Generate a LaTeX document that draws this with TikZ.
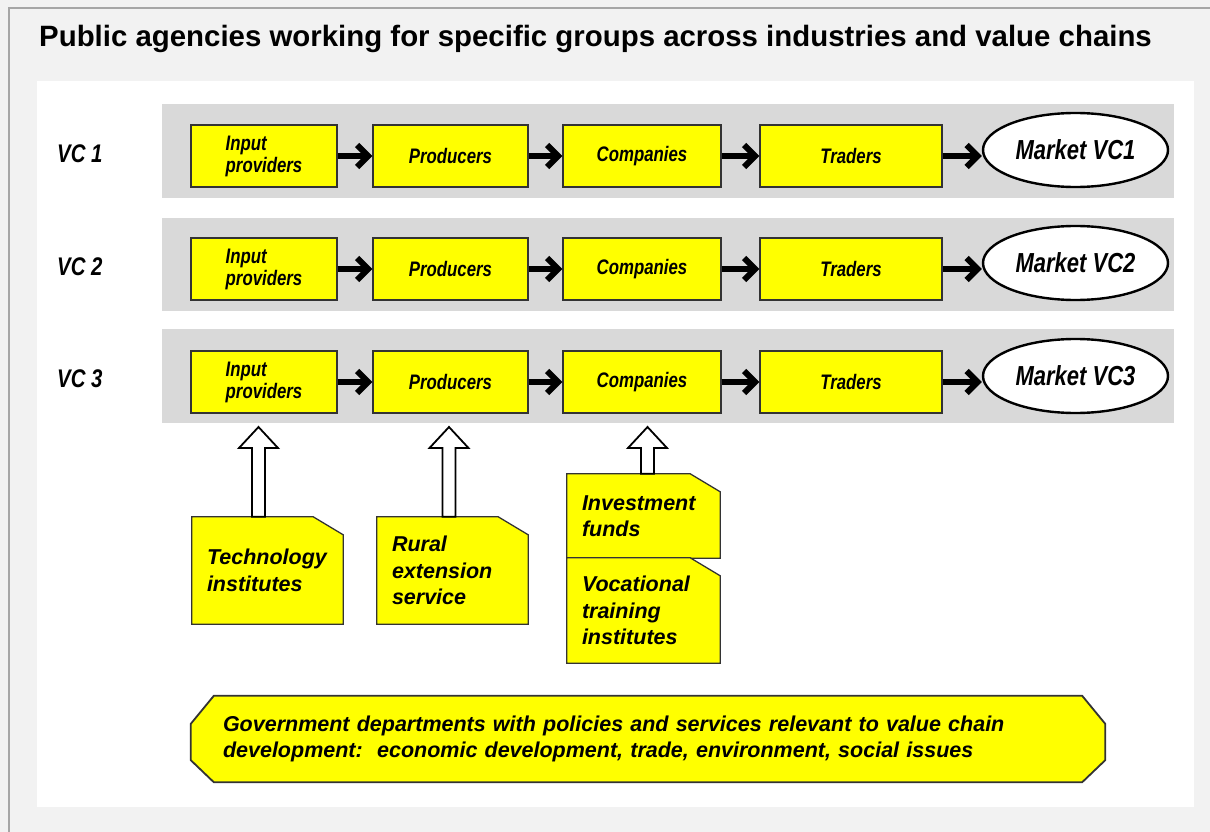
\documentclass[tikz,border=0pt]{standalone}
\usepackage{fontspec}
\setmainfont{Liberation Sans}
\newfontfamily\narrowf{Liberation Sans}[FakeStretch=0.8]
\usetikzlibrary{shapes.geometric,arrows.meta,calc}
\definecolor{bgout}{HTML}{F2F2F2}
\definecolor{bandgray}{HTML}{D9D9D9}
\definecolor{boxyel}{HTML}{FFFF00}
\definecolor{edgec}{HTML}{333333}
\definecolor{framec}{HTML}{A6A6A6}
\pgfdeclarelayer{bglayer}
\pgfdeclarelayer{midlayer}
\pgfsetlayers{bglayer,midlayer,main}
\begin{document}
\begin{tikzpicture}[x=1pt,y=-1pt,
  bandbox/.style={fill=bandgray,draw=none},
  vcbox/.style={draw=edgec,line width=1.3pt,fill=boxyel,inner sep=0pt,minimum height=62pt,align=left,
    font=\narrowf\bfseries\itshape\fontsize{21}{22}\selectfont},
  market/.style={ellipse,draw=black,line width=2.4pt,fill=white,minimum width=185pt,minimum height=74pt,inner sep=0pt,
    font=\narrowf\bfseries\itshape\fontsize{27.5}{30}\selectfont},
  vclabel/.style={anchor=base west,inner sep=0pt,font=\narrowf\bfseries\itshape\fontsize{25.5}{28}\selectfont},
  rowarr/.style={line width=6pt,-{Straight Barb[length=11pt,width=22pt]}},
  supbox/.style={inner sep=0pt,align=left,font=\bfseries\itshape\fontsize{21.5}{26.5}\selectfont},
  supfill/.style={draw=edgec,line width=1.3pt,fill=boxyel,line join=miter},
  govbox/.style={inner sep=0pt,align=left,font=\bfseries\itshape\fontsize{21.5}{26}\selectfont},
  govfill/.style={draw=edgec,line width=1.8pt,fill=boxyel,line join=miter},
  uparr/.style={draw=black,fill=white,line width=1.8pt,line join=miter},
]
\useasboundingbox (0,0) rectangle (1210,832);
\begin{pgfonlayer}{bglayer}
\fill[bgout] (0,0) rectangle (1210,832);
\draw[framec,line width=1.5pt] (9,832) -- (9,8) -- (1210,8);
\fill[white] (37,81) rectangle (1194,807);
% bands
\path[bandbox] (162,104) rectangle (1174,198);
\path[bandbox] (162,218) rectangle (1174,311);
\path[bandbox] (162,329) rectangle (1174,423);
\end{pgfonlayer}

\node[anchor=base west,inner sep=0pt,font=\bfseries\fontsize{29.4}{34}\selectfont] (title) at (39,47)
  {Public agencies working for specific groups across industries and value chains};

% row labels
\node[vclabel] (vc1) at (57,162) {VC 1};
\node[vclabel] (vc2) at (57,275) {VC 2};
\node[vclabel] (vc3) at (57,387) {VC 3};

% rows
\foreach \r/\y/\ey in {1/156/150,2/269/263,3/382/376}{
  \node[vcbox,minimum width=146pt] (in\r) at (264,\y) {Input\\providers};
  \node[vcbox,minimum width=155pt] (pr\r) at (450.5,\y) {Producers};
  \node[vcbox,minimum width=158pt] (co\r) at (642,\y) {Companies};
  \node[vcbox,minimum width=182pt] (tr\r) at (851,\y) {Traders};
  \node[market] (mk\r) at (1075.5,\ey) {Market VC\r};
  \draw[rowarr] (in\r) -- (pr\r);
  \draw[rowarr] (pr\r) -- (co\r);
  \draw[rowarr] (co\r) -- (tr\r);
  \draw[rowarr] (tr\r.east) -- (mk\r.west |- tr\r.east);
}

% support boxes (text nodes; yellow shapes on the middle layer)
\node[supbox,minimum width=151pt,minimum height=107pt,text width=121pt] (tech) at (267.5,570.5)
  {Technology\\institutes};
\node[supbox,minimum width=151pt,minimum height=107pt,text width=121pt] (rural) at (452.5,570.5)
  {Rural\\extension\\service};
\node[supbox,minimum width=153pt,minimum height=84pt,text width=123pt] (invest) at (643.5,516)
  {Investment\\funds};
\node[supbox,minimum width=153pt,minimum height=105pt,text width=123pt] (voc) at (643.5,610.5)
  {Vocational\\training\\institutes};
\begin{pgfonlayer}{midlayer}
\foreach \b in {tech,rural,invest,voc}{
  \draw[supfill] (\b.south west) -- (\b.north west) -- ([xshift=-30pt]\b.north east)
    -- ([yshift=-18pt]\b.north east) -- (\b.south east) -- cycle;
}
\end{pgfonlayer}

% up arrows
\coordinate (tipT) at (258.5,427);
\coordinate (tipR) at (449,427);
\coordinate (tipC) at (647.5,427);
\foreach \t/\b in {tipT/tech,tipR/rural,tipC/invest}{
  \draw[uparr] let \p1=(\t), \p2=(\b.north -| \t) in
    (\p1) -- (\x1+19.5pt,\y1-21pt) -- (\x1+6.5pt,\y1-21pt) -- (\x1+6.5pt,\y2)
    -- (\x1-6.5pt,\y2) -- (\x1-6.5pt,\y1-21pt) -- (\x1-19.5pt,\y1-21pt) -- cycle;
}

% government
\node[govbox,minimum width=914pt,minimum height=86pt,text width=850pt] (gov) at (648,739)
  {Government departments with policies and services relevant to value chain\\
   development:\ \ economic development, trade, environment, social issues};
\begin{pgfonlayer}{midlayer}
\draw[govfill] ([xshift=23pt]gov.north west) -- ([xshift=-23pt]gov.north east)
  -- ([yshift=-28pt]gov.north east) -- ([yshift=22pt]gov.south east)
  -- ([xshift=-23pt]gov.south east) -- ([xshift=23pt]gov.south west)
  -- ([yshift=22pt]gov.south west) -- ([yshift=-28pt]gov.north west) -- cycle;
\end{pgfonlayer}
\end{tikzpicture}
\end{document}
